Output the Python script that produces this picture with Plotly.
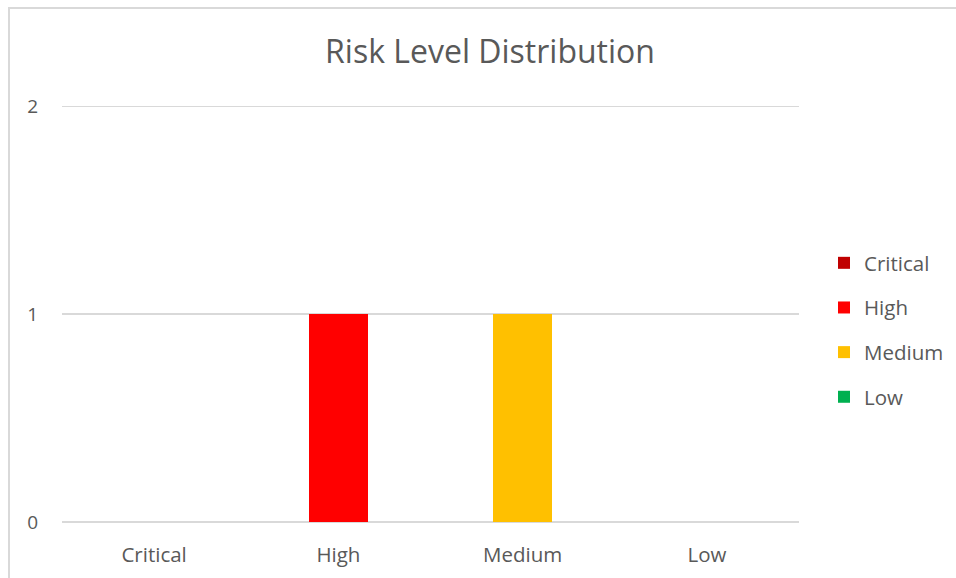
import plotly.graph_objects as go

# Risk level counts
categories = ["Critical", "High", "Medium", "Low"]
counts = [0, 1, 1, 0]
colors = ["#C00000", "#FF0000", "#FFC000", "#00B050"]
y_ticks = [0, 1, 2]

W, H = 956, 578
M_L, M_R, M_T, M_B = 62, 157, 106, 56
plot_w = W - M_L - M_R
plot_h = H - M_T - M_B

FONT = "Open Sans"
GREY = "#595959"
GRID = "#D9D9D9"

fig = go.Figure()
for cat, val, col in zip(categories, counts, colors):
    fig.add_trace(go.Bar(
        x=[cat], y=[val], name=cat,
        marker=dict(color=col, line=dict(width=0)),
        width=0.32, legendgroup=cat,
        hovertemplate="%{x}: %{y}<extra></extra>",
    ))


def px_to_paper_x(px):
    return (px - M_L) / plot_w


def px_to_paper_y(py):
    return (H - M_B - py) / plot_h


# Chart-area frame
fig.add_shape(
    type="rect", xref="paper", yref="paper",
    x0=px_to_paper_x(9), x1=px_to_paper_x(W + 10),
    y0=px_to_paper_y(H + 10), y1=px_to_paper_y(8),
    line=dict(color=GRID, width=2), fillcolor="rgba(0,0,0,0)", layer="below",
)

# Gridline at the top of the value range (plotly omits it at the axis edge)
fig.add_shape(
    type="line", xref="paper", yref="y",
    x0=0, x1=1, y0=max(y_ticks), y1=max(y_ticks),
    line=dict(color=GRID, width=2), layer="below",
)

fig.update_layout(
    width=W, height=H,
    margin=dict(l=M_L, r=M_R, t=M_T, b=M_B, pad=0, autoexpand=False),
    paper_bgcolor="white", plot_bgcolor="white",
    barmode="stack",
    font=dict(family=FONT, color=GREY, size=20),
    title=dict(
        text="Risk Level Distribution",
        x=px_to_paper_x(490), xref="paper", xanchor="center",
        y=1 - 52 / H, yanchor="middle",
        font=dict(family=FONT, size=32, color=GREY),
    ),
    xaxis=dict(
        categoryorder="array", categoryarray=categories,
        showgrid=False, zeroline=False, showline=False,
        ticks="", tickfont=dict(size=20.5, color=GREY), ticklabelstandoff=18,
    ),
    yaxis=dict(
        range=[0, max(y_ticks)], tickvals=y_ticks, showgrid=True, gridcolor=GRID,
        gridwidth=2, zeroline=True, zerolinecolor=GRID, zerolinewidth=2,
        showline=False, ticks="", tickfont=dict(size=19, color=GREY),
        ticklabelstandoff=23,
    ),
    legend=dict(
        x=px_to_paper_x(824), xanchor="left",
        y=px_to_paper_y(330), yanchor="middle",
        font=dict(size=20.5, color=GREY), tracegroupgap=15,
        bgcolor="rgba(0,0,0,0)", itemclick=False,
    ),
    showlegend=True,
)

fig.write_html("out.html")
